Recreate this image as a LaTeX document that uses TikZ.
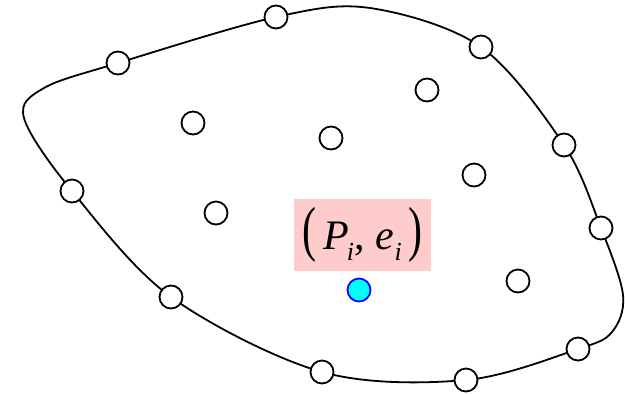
\documentclass[tikz,border=0pt]{standalone}
\usepackage{fontspec}
\setmainfont{Liberation Serif}
\usepackage{tikz}

\definecolor{pcyan}{RGB}{0,255,255}
\definecolor{pblue}{RGB}{0,0,255}
\definecolor{lblpink}{RGB}{255,204,204}
\newcommand{\tallparen}[1]{\scalebox{1}[1.45]{#1}}
\newcommand{\lowsub}[1]{\raisebox{-5.5pt}{\fontsize{13}{15}\selectfont\textit{#1}}}

\begin{document}
\begin{tikzpicture}[x=0.5pt, y=-0.5pt,
  node/.style={circle, draw, fill=white, line width=0.9pt, minimum size=11.5pt, inner sep=0pt},
  hull/.style={line width=0.9pt},
  lbl/.style={fill=lblpink, minimum width=68.5pt, minimum height=36pt, inner sep=0pt,
    font=\fontsize{21}{24}\selectfont}]
  \useasboundingbox (0,0) rectangle (626,393);
  % points on the boundary
  \coordinate (b1) at (276,17);
  \coordinate (b2) at (481,47);
  \coordinate (b3) at (564,145);
  \coordinate (b4) at (601,228);
  \coordinate (b5) at (578,349);
  \coordinate (b6) at (466,380);
  \coordinate (b7) at (322,372);
  \coordinate (b8) at (171,297);
  \coordinate (b9) at (72,191);
  \coordinate (b10) at (118,63);
  \draw[hull] plot[smooth cycle, tension=0.55] coordinates {(b1) (370,8) (b2) (b3) (b4) (623,295) (612,332) (b5) (b6) (b7) (b8) (b9) (24,118) (44,88) (b10)};
  \foreach \i in {1,...,10} \node[node] (n\i) at (b\i) {};
  % interior points
  \node[node] (p1) at (193,123) {};
  \node[node] (p2) at (331,138) {};
  \node[node] (p3) at (427,90) {};
  \node[node] (p4) at (474,175) {};
  \node[node] (p5) at (216,213) {};
  \node[node] (p6) at (518,281) {};
  \node[node, draw=pblue, fill=pcyan] (q) at (359,290) {};
  \node[lbl] (lab) at (362.5,235) {\tallparen{(}\,\textit{P}\kern-1pt\lowsub{i}, \textit{e}\kern0.5pt\lowsub{i}\,\tallparen{)}};
\end{tikzpicture}
\end{document}
